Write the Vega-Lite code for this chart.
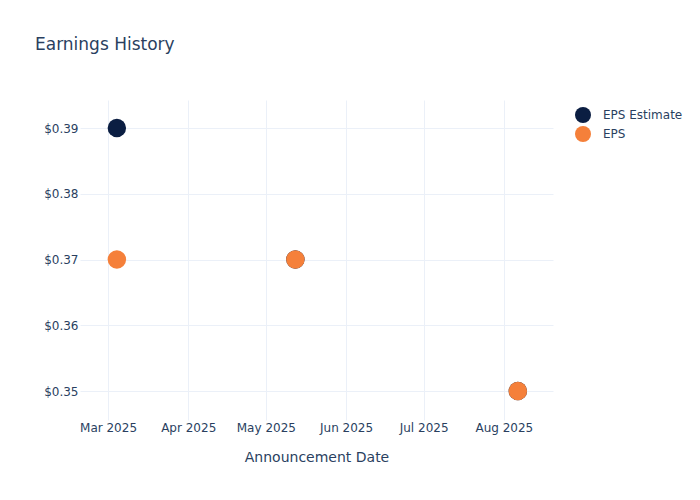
{
  "$schema": "https://vega.github.io/schema/vega-lite/v6.json",
  "width": 473,
  "height": 320,
  "autosize": {"type": "none"},
  "padding": {"left": 80, "top": 100, "right": 147, "bottom": 80},
  "background": "white",
  "config": {"view": {"stroke": null}, "font": "DejaVu Sans"},
  "title": {
    "text": "Earnings History",
    "anchor": "start",
    "frame": "group",
    "dx": -45,
    "offset": 33,
    "baseline": "alphabetic",
    "fontSize": 17,
    "fontWeight": "normal",
    "color": "#2a3f5f",
    "font": "DejaVu Sans"
  },
  "data": {
    "values": [
      {"date": "2025-03-04T10:00:00Z", "series": "EPS Estimate", "value": 0.39},
      {"date": "2025-05-12T10:00:00Z", "series": "EPS Estimate", "value": 0.37},
      {"date": "2025-08-06T10:00:00Z", "series": "EPS Estimate", "value": 0.35},
      {"date": "2025-03-04T10:00:00Z", "series": "EPS", "value": 0.37},
      {"date": "2025-05-12T10:00:00Z", "series": "EPS", "value": 0.37},
      {"date": "2025-08-06T10:00:00Z", "series": "EPS", "value": 0.35}
    ]
  },
  "mark": {"type": "point", "filled": true, "opacity": 1, "size": 340, "strokeWidth": 0},
  "encoding": {
    "x": {
      "field": "date",
      "type": "temporal",
      "scale": {"type": "utc", "domain": [{"year": 2025, "month": 2, "date": 18, "hours": 4, "utc": true}, {"year": 2025, "month": 8, "date": 20, "utc": true}]},
      "axis": {
        "title": "Announcement Date",
        "titleFontSize": 14,
        "titleFontWeight": "normal",
        "titleColor": "#2a3f5f",
        "titlePadding": 17,
        "values": [
          {"year": 2025, "month": 3, "date": 1, "utc": true},
          {"year": 2025, "month": 4, "date": 1, "utc": true},
          {"year": 2025, "month": 5, "date": 1, "utc": true},
          {"year": 2025, "month": 6, "date": 1, "utc": true},
          {"year": 2025, "month": 7, "date": 1, "utc": true},
          {"year": 2025, "month": 8, "date": 1, "utc": true}
        ],
        "format": "%b %Y",
        "labelAngle": 0,
        "labelAlign": "center",
        "labelFontSize": 12,
        "labelColor": "#2a3f5f",
        "labelPadding": 2,
        "domain": false,
        "ticks": false,
        "grid": true,
        "gridColor": "#ebf0f8",
        "gridWidth": 1,
        "labelFlush": false
      }
    },
    "y": {
      "field": "value",
      "type": "quantitative",
      "scale": {"domain": [0.34559, 0.39426], "nice": false, "zero": false},
      "axis": {
        "title": null,
        "values": [0.35, 0.36, 0.37, 0.38, 0.39],
        "format": "$.2f",
        "labelFontSize": 12,
        "labelColor": "#2a3f5f",
        "labelPadding": 2,
        "domain": false,
        "ticks": false,
        "grid": true,
        "gridColor": "#ebf0f8",
        "gridWidth": 1
      }
    },
    "color": {
      "field": "series",
      "type": "nominal",
      "scale": {"domain": ["EPS Estimate", "EPS"], "range": ["#0b1e42", "#f5803a"]},
      "legend": {
        "title": null,
        "orient": "none",
        "legendX": 495,
        "legendY": 7,
        "symbolType": "circle",
        "symbolSize": 256,
        "symbolStrokeWidth": 0,
        "symbolOpacity": 1,
        "labelFontSize": 12,
        "labelColor": "#2a3f5f",
        "labelOffset": 12,
        "rowPadding": 3
      }
    },
    "order": {"field": "series", "sort": "descending"}
  }
}
